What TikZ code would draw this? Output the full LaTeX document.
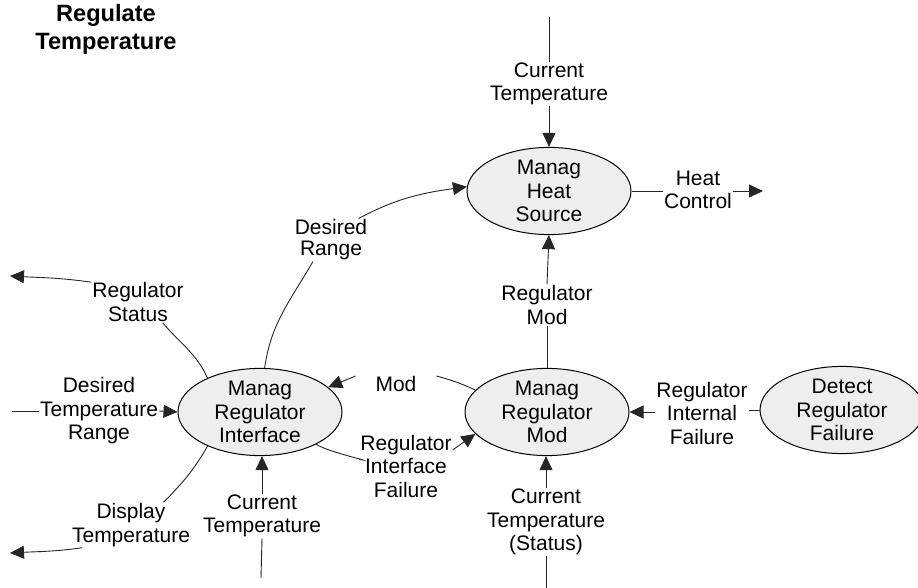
\documentclass[tikz,border=0pt]{standalone}
\usepackage{fontspec}
\setmainfont{Liberation Sans}
\usetikzlibrary{shapes.geometric,arrows.meta}

\definecolor{bubble}{RGB}{238,238,238}

\tikzset{
  proc/.style={ellipse, draw=black, line width=1pt, fill=bubble,
    minimum width=164pt, minimum height=84pt, inner sep=0pt,
    align=center, font=\fontsize{21}{23.5}\selectfont},
  flowlbl/.style={align=center, inner sep=1pt,
    font=\fontsize{21}{23.5}\selectfont},
  flow/.style={line width=0.9pt, draw=black!85},
  flowarr/.style={flow, -{Triangle[length=14pt,width=13pt]}},
}

\begin{document}
\begin{tikzpicture}[x=1pt, y=-1pt]
\useasboundingbox (0,0) rectangle (918,588);
\clip (0,0) rectangle (918,588);

% title
\node[align=center, inner sep=0pt, font=\fontsize{23.6}{28}\selectfont\bfseries]
  (title) at (106,29) {Regulate\\Temperature};

% processes
\node[proc] (hs) at (549,191) {Manag\\Heat\\Source};
\node[proc] (ri) at (260,412) {Manag\\Regulator\\Interface};
\node[proc] (rm) at (547,412) {Manag\\Regulator\\Mod};
\node[proc] (dr) at (842,410) {Detect\\Regulator\\Failure};

% flow labels
\node[flowlbl] (ctA) at (549,84)  {Current\\Temperature};
\node[flowlbl] (hc)  at (698,190) {Heat\\Control};
\node[flowlbl] (rmd) at (547,305) {Regulator\\Mod};
\node[flowlbl, font=\fontsize{21}{21}\selectfont] (drg) at (331,240) {Desired\\Range};
\node[flowlbl] (rst) at (138,302) {Regulator\\Status};
\node[flowlbl] (dtr) at (99,411)  {Desired\\Temperature\\Range};
\node[flowlbl] (dsp) at (131,525) {Display\\Temperature};
\node[flowlbl] (ctB) at (262,516) {Current\\Temperature};
\node[flowlbl, inner xsep=20pt, inner ysep=0pt] (mod) at (396,384) {Mod};
\node[flowlbl] (rif) at (406,466) {Regulator\\Interface\\Failure};
\node[flowlbl] (rnf) at (702,413) {Regulator\\Internal\\Failure};
\node[flowlbl] (ctS) at (546,522) {Current\\Temperature\\(Status)};

% free ends
\coordinate (ctAin)  at (549,17);
\coordinate (hcout)  at (763,191);
\coordinate (rstout) at (10,276);
\coordinate (dtrin)  at (12,411);
\coordinate (dspout) at (10,553);
\coordinate (ctBin)  at (261,578);
\coordinate (ctSin)  at (546,588);

% current temperature into the heat source
\draw[flow] (ctAin) -- (ctA.north);
\draw[flowarr] (ctA.south) -- (hs.north);

% heat control out
\draw[flow] (hs.east) -- (hs.east -| hc.west);
\draw[flowarr] (hs.east -| hc.east) -- (hcout);

% regulator mod up to the heat source
\draw[flow] (rm.north) -- (rmd.south);
\draw[flowarr] (rmd.north) -- (hs.south);

% desired range
\draw[flow] (ri.84) to[out=82,in=-120] (drg.-130);
\draw[flowarr] (drg.38) to[out=28,in=188] (hs.177);

% regulator status out
\draw[flow] (ri.147) to[out=115,in=-50] (rst.-40);
\draw[flowarr] (rst.157) to[out=172,in=-3] (rstout);

% desired temperature range in
\draw[flow] (dtrin) -- (dtr.west);
\draw[flowarr] (dtr.east) -- (ri.west);

% display temperature out
\draw[flow] (ri.213) to[out=-120,in=45] (dsp.35);
\draw[flowarr] (dsp.205) to[out=188,in=3] (dspout);

% current temperature into the interface
\draw[flow] (ctBin) -- (ctB.south);
\draw[flowarr] (ctB.north) -- (ri.south -| ctB.north);

% mod
\draw[flow] (rm.163) to[out=155,in=-15] (mod.north east);
\draw[flowarr] (mod.north west) -- (ri.20);

% regulator interface failure
\draw[flow] (ri.-30) to[out=-30,in=-10] (rif.172);
\draw[flowarr] (rif.19) -- (rm.197);

% regulator internal failure
\draw[flow] (dr.west) -- (dr.west -| rnf.east);
\draw[flowarr] (rnf.west |- rm.east) -- (rm.east);

% current temperature (status) into the mod process
\draw[flow] (ctSin) -- (ctS.south);
\draw[flowarr] (ctS.north) -- (rm.south -| ctS.north);
\end{tikzpicture}
\end{document}
